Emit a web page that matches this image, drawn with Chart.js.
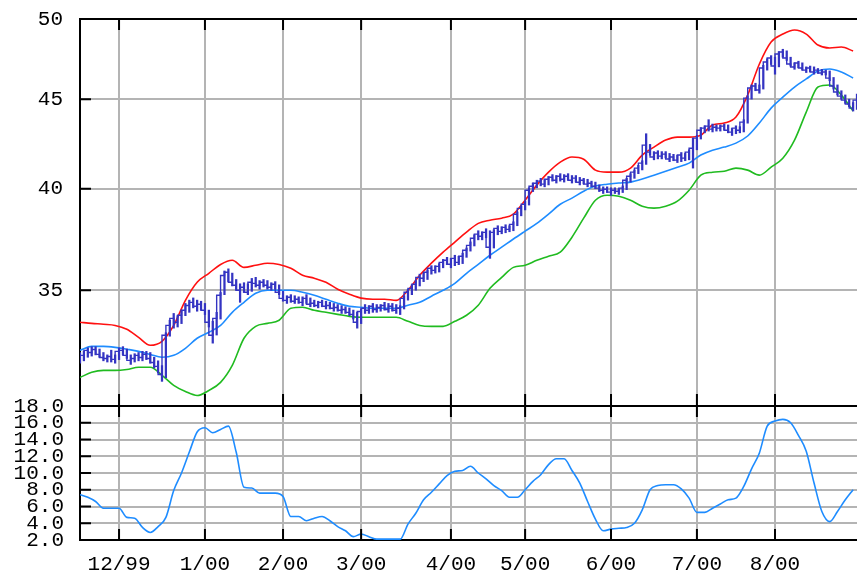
<!DOCTYPE html>
<html>
<head>
<meta charset="utf-8">
<title>Price with bands</title>
<script src="https://cdn.jsdelivr.net/npm/chart.js@4.4.1/dist/chart.umd.min.js"></script>
<style>
  html, body { margin: 0; padding: 0; background: #fff; }
  #wrap { position: relative; width: 857px; height: 573px; overflow: hidden; }
  #price { position: absolute; left: 0; top: 0; }
  #osc { position: absolute; left: 0; top: 390px; }
</style>
</head>
<body>
<div id="wrap">
  <canvas id="price" width="857" height="406"></canvas>
  <canvas id="osc" width="857" height="183"></canvas>
</div>
<script>
// trading days, 16 Nov 1999 .. 30 Aug 2000
const firstDay = '1999-11-16';
const lastDay = '2000-08-30';
const holidays = ['1999-11-25', '1999-12-24', '2000-01-17', '2000-02-21', '2000-04-21', '2000-05-29', '2000-07-04'];
const monthLabels = ['12/99', '1/00', '2/00', '3/00', '4/00', '5/00', '6/00', '7/00', '8/00'];

const days = [];
for (let d = new Date(firstDay + 'T12:00:00Z'); d <= new Date(lastDay + 'T12:00:00Z'); d.setUTCDate(d.getUTCDate() + 1)) {
  const iso = d.toISOString().slice(0, 10);
  const wd = d.getUTCDay();
  if (wd !== 0 && wd !== 6 && !holidays.includes(iso)) days.push(iso);
}
const monthStarts = days.map((d, i) => i).filter(i => i > 0 && days[i].slice(5, 7) !== days[i - 1].slice(5, 7));

// daily bars
const closes = [
  32.00, 32.13, 32.34, 32.25, 32.38, 32.17, 32.04, 32.00, 32.08, 31.96,
  32.30, 32.34, 32.13, 31.92, 32.00, 32.13, 32.04, 32.17, 32.00, 31.83,
  31.67, 31.33, 32.99, 33.42, 33.73, 33.56, 33.87, 34.09, 34.31, 34.45,
  34.27, 34.36, 34.09, 33.56, 32.99, 33.73, 34.77, 35.69, 35.84, 35.37,
  35.23, 35.00, 35.14, 34.91, 35.37, 35.32, 35.23, 35.37, 35.23, 35.14,
  35.28, 34.91, 34.63, 34.54, 34.68, 34.50, 34.59, 34.45, 34.63, 34.36,
  34.41, 34.31, 34.45, 34.27, 34.31, 34.18, 34.22, 34.09, 34.13, 34.00,
  33.91, 33.56, 34.04, 34.18, 34.09, 34.27, 34.13, 34.22, 34.31, 34.13,
  34.27, 34.09, 34.18, 34.63, 34.91, 35.09, 35.28, 35.60, 35.56, 35.84,
  36.03, 35.93, 36.12, 36.31, 36.41, 36.22, 36.50, 36.31, 36.60, 36.89,
  37.13, 37.48, 37.68, 37.58, 37.77, 37.04, 37.77, 37.97, 37.82, 38.02,
  37.92, 38.17, 38.68, 38.98, 39.19, 39.92, 40.13, 40.29, 40.40, 40.24,
  40.50, 40.61, 40.45, 40.66, 40.50, 40.66, 40.45, 40.56, 40.34, 40.45,
  40.24, 40.29, 40.13, 40.03, 39.92, 39.97, 39.82, 39.92, 39.87, 40.03,
  40.45, 40.66, 40.88, 41.10, 41.37, 42.36, 41.97, 41.70, 41.92, 41.75,
  41.86, 41.59, 41.70, 41.53, 41.81, 41.64, 41.97, 42.19, 42.75, 43.20,
  43.32, 43.43, 43.26, 43.37, 43.32, 43.43, 43.20, 43.09, 43.32, 43.20,
  43.66, 45.06, 45.66, 45.78, 45.54, 46.88, 47.25, 47.50, 47.00, 47.75,
  47.88, 47.50, 47.13, 46.94, 47.19, 46.88, 46.75, 46.88, 46.63, 46.75,
  46.57, 46.63, 46.26, 45.78, 45.42, 45.18, 44.94, 44.71, 44.47, 44.94
];
const highs = [
  32.25, 32.30, 32.45, 32.50, 32.50, 32.40, 32.25, 32.15, 32.35, 32.15,
  32.45, 32.50, 32.40, 32.15, 32.20, 32.25, 32.30, 32.30, 32.25, 32.05,
  31.90, 31.70, 33.10, 33.65, 33.95, 33.85, 34.10, 34.40, 34.55, 34.65,
  34.55, 34.50, 34.40, 34.10, 33.60, 34.00, 34.90, 35.90, 36.00, 35.80,
  35.50, 35.30, 35.35, 35.30, 35.55, 35.60, 35.45, 35.50, 35.45, 35.35,
  35.40, 35.25, 34.95, 34.75, 34.80, 34.75, 34.70, 34.70, 34.80, 34.65,
  34.55, 34.50, 34.55, 34.50, 34.45, 34.40, 34.35, 34.30, 34.25, 34.20,
  34.10, 34.00, 34.15, 34.35, 34.30, 34.40, 34.35, 34.35, 34.45, 34.40,
  34.40, 34.35, 34.30, 34.75, 35.05, 35.25, 35.45, 35.75, 35.80, 35.95,
  36.15, 36.15, 36.25, 36.45, 36.55, 36.50, 36.65, 36.60, 36.75, 37.00,
  37.30, 37.65, 37.85, 37.80, 37.95, 37.85, 37.90, 38.10, 38.05, 38.15,
  38.10, 38.30, 38.80, 39.10, 39.35, 40.05, 40.30, 40.45, 40.55, 40.50,
  40.65, 40.75, 40.70, 40.80, 40.75, 40.80, 40.70, 40.70, 40.60, 40.55,
  40.50, 40.40, 40.35, 40.20, 40.10, 40.10, 40.05, 40.05, 40.00, 40.15,
  40.55, 40.80, 41.00, 41.25, 41.50, 43.00, 42.40, 42.00, 42.05, 42.00,
  42.00, 41.90, 41.85, 41.80, 41.95, 41.90, 42.10, 42.75, 42.90, 43.35,
  43.45, 43.80, 43.55, 43.50, 43.50, 43.55, 43.50, 43.30, 43.45, 43.40,
  43.80, 45.20, 45.85, 45.95, 45.85, 47.05, 47.45, 47.65, 47.55, 47.90,
  48.05, 47.95, 47.55, 47.20, 47.30, 47.20, 46.95, 47.00, 46.95, 46.85,
  46.80, 46.75, 46.70, 46.30, 45.85, 45.50, 45.25, 45.00, 44.80, 45.30
];
const lows = [
  31.80, 31.90, 32.05, 32.10, 32.15, 32.05, 31.90, 31.85, 31.85, 31.80,
  31.95, 32.15, 32.00, 31.75, 31.85, 31.90, 31.90, 31.95, 31.80, 31.60,
  31.40, 31.05, 31.20, 32.95, 33.30, 33.35, 33.50, 33.85, 34.00, 34.20,
  34.05, 34.10, 33.90, 33.35, 32.65, 33.00, 33.70, 34.80, 35.40, 35.20,
  35.00, 34.45, 34.90, 34.80, 34.95, 35.15, 35.05, 35.15, 35.05, 35.00,
  35.05, 34.80, 34.50, 34.40, 34.45, 34.40, 34.40, 34.30, 34.40, 34.25,
  34.25, 34.20, 34.25, 34.15, 34.15, 34.05, 34.05, 33.95, 33.95, 33.85,
  33.70, 33.30, 33.50, 33.95, 33.95, 34.00, 34.00, 34.05, 34.10, 34.00,
  34.05, 33.95, 33.90, 34.15, 34.55, 34.80, 35.00, 35.20, 35.40, 35.50,
  35.75, 35.80, 35.85, 36.05, 36.20, 36.05, 36.15, 36.20, 36.25, 36.55,
  36.85, 37.10, 37.40, 37.40, 37.50, 36.50, 37.00, 37.65, 37.70, 37.75,
  37.80, 37.85, 38.10, 38.60, 38.90, 39.15, 39.85, 40.05, 40.15, 40.10,
  40.20, 40.40, 40.30, 40.40, 40.35, 40.45, 40.30, 40.35, 40.20, 40.25,
  40.10, 40.10, 40.00, 39.85, 39.75, 39.80, 39.65, 39.75, 39.70, 39.80,
  39.95, 40.35, 40.55, 40.80, 41.00, 41.30, 41.80, 41.55, 41.60, 41.60,
  41.65, 41.45, 41.50, 41.40, 41.45, 41.50, 41.55, 41.10, 42.10, 42.70,
  43.05, 43.15, 43.10, 43.15, 43.15, 43.20, 43.05, 42.90, 43.00, 43.05,
  43.10, 43.60, 45.00, 45.50, 45.35, 45.60, 46.75, 47.10, 46.50, 46.95,
  47.55, 47.35, 47.00, 46.80, 46.90, 46.75, 46.60, 46.65, 46.50, 46.55,
  46.45, 46.45, 46.10, 45.60, 45.25, 45.00, 44.75, 44.55, 44.30, 44.40
];

// bands, read every 3rd trading day
const bandStep = 3;
const upperBand = [
  33.56, 33.51, 33.47, 33.42, 33.25, 32.90, 32.56, 32.73, 33.42, 34.54,
  35.37, 35.79, 36.21, 36.41, 36.07, 36.17, 36.27, 36.21, 36.03, 35.70,
  35.56, 35.37, 35.05, 34.82, 34.64, 34.59, 34.59, 34.54, 35.00, 35.70,
  36.27, 36.80, 37.29, 37.78, 38.22, 38.38, 38.48, 38.69, 39.40, 40.19,
  40.88, 41.42, 41.70, 41.58, 40.99, 40.88, 40.88, 41.10, 41.81, 42.25,
  42.64, 42.81, 42.81, 42.92, 43.49, 43.61, 43.95, 45.24, 47.13, 48.51,
  49.02, 49.28, 49.02, 48.32, 48.13, 48.19, 47.94
];
const middleBand = [
  32.35, 32.51, 32.51, 32.47, 32.39, 32.30, 32.17, 32.05, 32.13, 32.43,
  32.86, 33.12, 33.42, 34.00, 34.45, 34.86, 35.00, 35.00, 35.00, 34.91,
  34.77, 34.59, 34.41, 34.27, 34.23, 34.18, 34.18, 34.18, 34.32, 34.45,
  34.73, 35.00, 35.32, 35.79, 36.21, 36.65, 37.04, 37.44, 37.83, 38.22,
  38.69, 39.19, 39.51, 39.87, 40.14, 40.24, 40.30, 40.35, 40.51, 40.72,
  40.93, 41.15, 41.37, 41.81, 42.08, 42.25, 42.47, 42.87, 43.61, 44.47,
  45.12, 45.72, 46.21, 46.69, 46.82, 46.63, 46.27
];
const lowerBand = [
  31.21, 31.42, 31.50, 31.50, 31.54, 31.63, 31.63, 31.30, 30.89, 30.64,
  30.48, 30.68, 31.01, 31.71, 32.86, 33.38, 33.51, 33.65, 34.18, 34.23,
  34.09, 34.00, 33.91, 33.82, 33.78, 33.78, 33.78, 33.78, 33.60, 33.42,
  33.38, 33.38, 33.60, 33.87, 34.32, 35.09, 35.60, 36.07, 36.17, 36.41,
  36.60, 36.80, 37.53, 38.48, 39.40, 39.66, 39.61, 39.40, 39.09, 38.99,
  39.09, 39.35, 39.92, 40.72, 40.88, 40.93, 41.10, 40.99, 40.72, 41.15,
  41.64, 42.64, 44.24, 45.72, 45.84, 45.24, 44.30
];

// lower panel, read every 2nd trading day
const oscStep = 2;
const oscillator = [
  7.4, 7.1, 6.6, 5.8, 5.8, 5.8, 4.7, 4.6, 3.5, 2.9,
  3.6, 4.7, 7.9, 10.0, 12.5, 14.9, 15.4, 14.8, 15.2, 15.6,
  12.5, 8.3, 8.2, 7.6, 7.6, 7.6, 7.2, 4.8, 4.8, 4.3,
  4.6, 4.8, 4.3, 3.6, 3.1, 2.4, 2.7, 2.4, 2.1, 2.1,
  2.1, 2.1, 3.9, 5.2, 6.8, 7.7, 8.7, 9.7, 10.2, 10.3,
  10.8, 10.0, 9.3, 8.5, 7.9, 7.1, 7.1, 8.0, 9.0, 9.8,
  11.0, 11.7, 11.7, 10.3, 8.8, 6.6, 4.5, 3.1, 3.3, 3.4,
  3.5, 4.0, 5.6, 8.0, 8.5, 8.6, 8.6, 8.1, 7.0, 5.3,
  5.3, 5.8, 6.3, 6.8, 7.0, 8.4, 10.5, 12.4, 15.6, 16.2,
  16.4, 16.0, 14.5, 12.6, 8.8, 5.4, 4.2, 5.4, 6.8, 8.0
];
const priceTicks = [35, 40, 45, 50];

const sampled = (arr, step) => arr.map((v, k) => ({ x: k * step, y: v }));
const daily = arr => arr.map((v, i) => ({ x: i, y: v }));

const FONT = { family: 'Liberation Mono', size: 21 };
const GRID = '#b4b4b4';

// short black tick marks drawn inside the plot frame
const innerTicks = {
  id: 'innerTicks',
  afterDraw(chart) {
    const { ctx, chartArea: a, scales: { x, y } } = chart;
    ctx.save();
    ctx.strokeStyle = '#000';
    ctx.lineWidth = 2;
    ctx.beginPath();
    x.ticks.forEach(t => {
      const px = x.getPixelForValue(t.value);
      ctx.moveTo(px, a.top); ctx.lineTo(px, a.top + 11);
      ctx.moveTo(px, a.bottom); ctx.lineTo(px, a.bottom - 11);
    });
    y.ticks.forEach(t => {
      const py = y.getPixelForValue(t.value);
      ctx.moveTo(a.left, py); ctx.lineTo(a.left + 11, py);
    });
    ctx.stroke();
    ctx.restore();
  }
};

// fixed axis width, and no extra room reserved for the end labels
const fixWidth = s => {
  s.width = 80;
  s.paddingTop = 0;
  s.paddingBottom = 0;
};

const xAxis = (showLabels, height) => ({
  type: 'linear',
  min: 0,
  max: days.length - 1,
  offset: false,
  afterBuildTicks: s => { s.ticks = monthStarts.map(v => ({ value: v })); },
  afterFit: s => { s.height = height; },
  grid: { color: GRID, lineWidth: 2, drawTicks: false, offset: false },
  border: { display: showLabels, color: '#000', width: 2 },
  ticks: {
    display: showLabels,
    autoSkip: false,
    maxRotation: 0,
    padding: 12,
    color: '#000',
    font: FONT,
    callback: (v, i) => monthLabels[i]
  }
});

const smoothLine = (label, data, color) => ({
  label,
  data,
  borderColor: color,
  borderWidth: 1.6,
  pointRadius: 0,
  cubicInterpolationMode: 'monotone'
});

const common = {
  responsive: false,
  animation: false,
  devicePixelRatio: 1,
  events: [],
  plugins: { legend: { display: false }, tooltip: { enabled: false } }
};

new Chart(document.getElementById('price'), {
  type: 'line',
  data: {
    datasets: [
      {
        label: 'Close',
        data: daily(closes),
        borderColor: '#3434c2',
        borderWidth: 1.4,
        stepped: 'after',
        pointRadius: 0
      },
      {
        type: 'bar',
        label: 'Range',
        data: lows.map((v, i) => ({ x: i, y: [v, highs[i]] })),
        backgroundColor: '#3434c2',
        barThickness: 1.6
      },
      smoothLine('Middle', sampled(middleBand, bandStep), '#1e8cff'),
      smoothLine('Upper', sampled(upperBand, bandStep), '#ff1010'),
      smoothLine('Lower', sampled(lowerBand, bandStep), '#20bb20')
    ]
  },
  options: {
    ...common,
    layout: { padding: { top: 19, right: 0, bottom: 1, left: 0 } },
    scales: {
      x: xAxis(false, 0),
      y: {
        type: 'logarithmic',
        min: 30.1,
        max: 50,
        afterBuildTicks: s => { s.ticks = priceTicks.map(v => ({ value: v })); },
        afterFit: fixWidth,
        grid: { color: c => c.tick.value === 50 ? '#000' : GRID, lineWidth: 2, drawTicks: false },
        border: { color: '#000', width: 2 },
        ticks: { padding: 17, color: '#000', font: FONT, callback: v => String(v) }
      }
    }
  },
  plugins: [innerTicks]
});

new Chart(document.getElementById('osc'), {
  type: 'line',
  data: {
    datasets: [smoothLine('Oscillator', sampled(oscillator, oscStep), '#1e8cff')]
  },
  options: {
    ...common,
    layout: { padding: { top: 16, right: 0, bottom: 0, left: 0 } },
    scales: {
      x: xAxis(true, 33),
      y: {
        type: 'linear',
        min: 2,
        max: 18,
        afterFit: fixWidth,
        grid: { color: c => c.tick.value === 18 ? '#000' : GRID, lineWidth: 2, drawTicks: false },
        border: { color: '#000', width: 2 },
        ticks: { stepSize: 2, autoSkip: false, padding: 16, color: '#000', font: FONT, callback: v => v.toFixed(1) }
      }
    }
  },
  plugins: [innerTicks]
});
</script>
</body>
</html>
